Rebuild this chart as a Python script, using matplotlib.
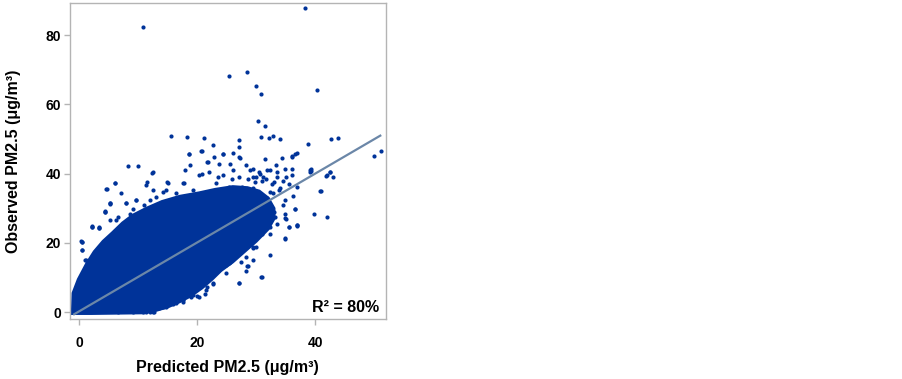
"""Predicted vs observed PM2.5 scatter with fitted line."""
import matplotlib
matplotlib.use("Agg")
import matplotlib.pyplot as plt

plt.rcParams["font.family"] = ["Liberation Sans", "DejaVu Sans"]

DOT = "#003399"
FIT = "#6b87a8"
GRAY = "#b4b4b4"

# dense core of the cloud (outline, data units)
core_x = [-1.2, -1.1, -0.2, 1.2, 2.5, 4.0, 5.6, 7.3, 9.0, 11.3, 14.0, 17.0,
          20.3, 23.0, 26.0, 28.5, 30.5, 32.0, 33.0, 33.0, 32.0, 30.0, 28.0,
          26.0, 24.0, 22.5, 20.8, 19.0, 17.0, 15.0, 13.0, 11.0, 2.0, -1.2]
core_y = [0.5, 5.5, 9.5, 14.0, 17.5, 20.5, 23.0, 25.8, 28.0, 30.0, 32.0, 33.5,
          34.5, 35.5, 36.3, 36.0, 35.0, 33.0, 30.0, 27.0, 24.0, 20.5, 17.5,
          14.5, 12.0, 9.5, 7.0, 4.8, 3.0, 1.5, 0.5, -0.2, -0.4, -0.4]

# individual points around the core
pred = [10.8, 38.3, 25.3, 28.4, 30.0, 30.8, 40.2, 30.2, 31.5, 15.5, 18.3, 21.2,
        27.1, 30.8, 32.9, 32.2, 34.0, 42.6, 43.9, 38.8, 49.9, 51.1, 39.2, 39.2,
        40.9, 39.7, 41.9, 41.9, 42.4, 43.0, 34.8, 32.3, 30.9, 27.0, 28.4, 28.2,
        36.9, 35.0, 36.6, 36.6, 36.1, 8.2, 10.0, 12.3, 6.0, 4.6, 2.2, 3.3,
        0.4, 0.4, 4.4, 5.1, 11.4,
        0.4, 2.2, 3.4, 5.1, 4.4, 1.0, 1.2, -0.6, 3.6, 6.2, 7.9, 9.6,
        11.3, 12.7, 9.6, 14.1, 17.5, 18.9, 16.4,
        22.7, 27.1, 18.6, 20.8, 24.4, 26.1, 27.2, 21.8, 12.4, 17.9, 18.8, 20.7,
        23.7, 25.5, 28.9, 30.6, 31.8, 33.4, 15.1, 17.6, 14.2, 12.5, 32.3, 31.7,
        32.0, 29.5, 27.2, 28.4,
        27.4, 25.5, 22.7, 21.6, 21.3, 19.9, 18.7, 17.6, 29.5, 22.1, 24.9, 23.8,
        31.0, 32.3, 35.6, 36.8,
        36.8, 36.1, 34.4, 31.4, 39.1, 39.1, 42.5, 41.8, 40.8, 36.8, 35.6, 34.8,
        36.5, 34.9, 34.9, 34.5, 36.2, 34.8, 36.1, 34.8, 33.5, 36.0, 32.3, 31.2,
        33.1, 32.3, 31.1, 36.8, 32.3,
        0.25, 0.4, 1.1, 0.8, 2.2, 3.4, 4.4, 5.1, 4.5, 6.1, 11.3, 7.0, 7.9, 9.6,
        5.1, 6.5, 9.0, 11.0, 13.0, 14.7, 14.9, 17.8, 16.4, 19.2, 18.6, 20.6,
        20.3, 21.7, 22.8, 24.3, 21.4, 23.1, 24.3, 26.0, 27.1, 28.2, 29.4, 30.0,
        25.4, 27.6, 29.4,
        27.1, 28.5, 29.9, 30.8, 27.1, 25.4, 24.8, 22.6, 21.4, 20.3, 19.2, 17.5,
        15.8, 14.7, 12.4, 10.7, 9.0, 6.5, 23.7, 26.0, 28.2, 29.4, 30.2, 28.8,
        31.0, 31.8, 32.8, 33.8, 32.6, 31.6, 30.5, 29.5, 33.0, 32.5, 31.5, 30.8,
        33.5, 30.5, 29.8, 28.5, 27.0, 25.8,
        33.0, 34.5, 35.5, 34.0, 33.5, 35.0, 31.0, 23.5, 22.0, 16.0, 13.5, 10.5,
        12.0, 3.0, 1.5, -0.5, 8.5, 12.0]
obs = [82.4, 88.0, 68.3, 69.5, 65.4, 62.9, 64.3, 55.3, 53.8, 51.0, 50.5, 50.2,
       49.8, 50.6, 50.9, 50.3, 49.9, 49.9, 50.2, 48.5, 45.2, 46.5, 41.5, 40.8,
       35.1, 28.3, 27.5, 39.6, 40.6, 39.0, 21.2, 16.4, 10.2, 8.5, 13.3, 11.9,
       25.0, 27.0, 29.7, 45.8, 45.1, 42.3, 42.3, 40.3, 37.3, 35.6, 24.7, 24.4,
       20.4, 18.1, 29.2, 31.4, 37.7,
       20.3, 24.8, 24.6, 31.2, 29.0, 15.0, 11.6, 3.5, 19.3, 26.6, 31.4, 32.3,
       0.1, 0.1, 0.5, 1.5, 3.5, 4.3, 2.6,
       48.2, 47.7, 45.8, 46.6, 45.6, 46.0, 44.4, 43.4, 40.5, 41.0, 42.5, 39.8,
       42.9, 42.7, 41.2, 40.0, 41.0, 42.5, 37.3, 37.2, 34.7, 35.2, 34.7, 27.1,
       24.6, 18.9, 18.4, 19.9,
       14.5, 14.5, 8.2, 7.3, 5.2, 4.7, 6.4, 3.8, 18.4, 11.6, 13.6, 18.9,
       22.7, 22.7, 24.6, 25.1,
       46.1, 44.9, 44.4, 44.2, 41.0, 40.5, 40.5, 39.4, 35.0, 25.1, 24.6, 21.3,
       29.7, 28.5, 27.1, 30.9, 33.5, 32.3, 41.5, 41.5, 39.1, 39.6, 41.0, 39.1,
       27.5, 24.6, 24.6, 36.2, 30.4,
       20.6, 17.9, 15.0, 11.6, 24.6, 24.4, 29.0, 31.4, 35.7, 37.3, 36.7, 34.3,
       31.4, 32.3, 26.6, 27.5, 29.9, 30.9, 33.3, 35.2, 37.6, 37.2, 34.3, 35.2,
       45.8, 46.6, 39.6, 43.4, 44.9, 45.8, 34.3, 37.2, 39.6, 41.0, 44.9, 42.5,
       39.1, 39.1, 36.2, 36.2, 35.8,
       8.5, 13.3, 18.9, 10.2, 17.9, 14.1, 11.2, 8.3, 6.4, 4.4, 4.9, 3.0,
       2.5, 1.5, 0.1, 0.0, 0.0, 0.0, 12.1, 16.0, 16.0, 15.0, 23.7, 23.1,
       31.5, 33.0, 34.5, 35.2, 37.0, 38.5, 40.5, 41.5, 29.0, 26.5, 28.5, 26.0,
       25.5, 33.0, 37.5, 38.5, 39.0, 38.6,
       37.5, 38.0, 37.0, 36.0, 40.5, 39.0, 38.0, 39.0, 40.5, 3.2, 1.2, 0.4,
       0.2, 17.0, 13.0, 6.0, 28.5, 32.5]

fit_x = [-0.9, 51.0]
fit_y = [-0.6, 51.0]

x_ticks = [0, 20, 40]
y_ticks = [0, 20, 40, 60, 80]

fig = plt.figure(figsize=(9.03, 3.79), dpi=100)
ax = fig.add_axes([0.0775, 0.158, 0.3495, 0.833])

ax.fill(core_x, core_y, color=DOT, lw=2.0, zorder=2)
ax.scatter(pred, obs, s=9, color=DOT, linewidths=0, zorder=3)
ax.plot(fit_x, fit_y, color=FIT, lw=1.6, zorder=4)

ax.set_xlim(-1.6, 51.9)
ax.set_ylim(-2.0, 89.2)
ax.set_xticks(x_ticks)
ax.set_yticks(y_ticks)
for s in ax.spines.values():
    s.set_color(GRAY)
    s.set_linewidth(1.0)
ax.tick_params(axis="both", colors=GRAY, length=4.5, width=1.0, labelsize=10)
ax.tick_params(axis="x", pad=7.5)
ax.tick_params(axis="y", pad=2)
for lab in ax.get_xticklabels() + ax.get_yticklabels():
    lab.set_color("black")
    lab.set_fontweight("bold")

ax.set_xlabel("Predicted PM2.5 (μg/m³)", fontsize=11.5, fontweight="bold")
ax.set_ylabel("Observed PM2.5 (μg/m³)", fontsize=11.5, fontweight="bold")
ax.xaxis.set_label_coords(0.5, -0.13)
ax.yaxis.set_label_coords(-0.155, 0.5)

ax.text(0.979, 0.022, "R² = 80%", transform=ax.transAxes, ha="right",
        va="baseline", fontsize=11.5, fontweight="bold")

fig.savefig("out.png", dpi=100)
